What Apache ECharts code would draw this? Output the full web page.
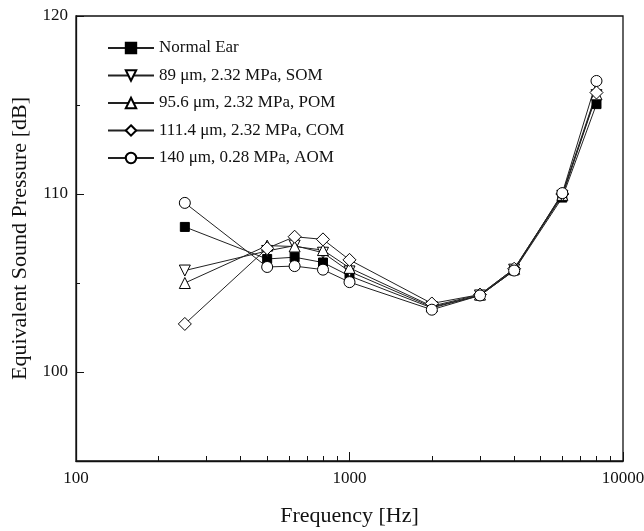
<!DOCTYPE html>
<html>
<head>
<meta charset="utf-8">
<script src="https://cdn.jsdelivr.net/npm/echarts@6/dist/echarts.min.js"></script>
<style>
html,body{margin:0;padding:0;background:#fff;}
#chart{width:644px;height:531px;}
</style>
</head>
<body>
<div id="chart"></div>
<script>
const freqs = [250, 500, 630, 800, 1000, 2000, 3000, 4000, 6000, 8000];
const normalEar = [108.15, 106.35, 106.45, 106.15, 105.4, 103.6, 104.3, 105.7, 109.8, 115.05];
const som = [105.7, 106.8, 107.1, 106.7, 105.65, 103.65, 104.3, 105.75, 109.9, 115.55];
const pom = [105.0, 107.1, 107.05, 106.85, 105.85, 103.7, 104.35, 105.8, 109.95, 115.6];
const com = [102.7, 106.95, 107.6, 107.45, 106.3, 103.85, 104.35, 105.8, 110.0, 115.7];
const aom = [109.5, 105.9, 105.95, 105.75, 105.05, 103.5, 104.3, 105.7, 110.05, 116.35];
const seriesNames = ['Normal Ear', '89 μm, 2.32 MPa, SOM', '95.6 μm, 2.32 MPa, POM', '111.4 μm, 2.32 MPa, COM', '140 μm, 0.28 MPa, AOM'];
const xLabelValues = [100, 1000, 10000];
const xMinorTicks = [200, 300, 400, 500, 600, 700, 800, 900, 2000, 3000, 4000, 5000, 6000, 7000, 8000, 9000];
const yLabelValues = [100, 110, 120];
const yMinorTicks = [105, 115];

const FONT = '"Liberation Serif", "Times New Roman", serif';
const INK = '#111';

function mk(name, vals, symbol, rotate, filled, size) {
  return {
    name: name,
    type: 'line',
    xAxisIndex: 0, yAxisIndex: 0,
    data: freqs.map((f, i) => [f, vals[i]]),
    symbol: symbol,
    symbolRotate: rotate,
    symbolSize: size,
    showAllSymbol: true,
    lineStyle: { color: '#222', width: 1 },
    itemStyle: { color: filled ? '#000' : '#fff', borderColor: '#000', borderWidth: 1 },
    emphasis: { disabled: true },
    animation: false,
    z: 3
  };
}

const chart = echarts.init(document.getElementById('chart'), null, { renderer: 'canvas' });
chart.setOption({
  backgroundColor: '#fff',
  animation: false,
  grid: { left: 76, right: 21, top: 16, bottom: 70, show: true, borderColor: INK, borderWidth: 1.3, backgroundColor: 'transparent', outerBoundsMode: 'none', containLabel: false },
  legend: {
    orient: 'vertical', left: 107, top: 39, padding: 0,
    itemWidth: 46, itemHeight: 13, itemGap: 9.5,
    textStyle: { fontFamily: FONT, fontSize: 17, color: INK, lineHeight: 18 },
    data: seriesNames
  },
  xAxis: [
    {
      type: 'log', logBase: 10, min: 100, max: 10000, offset: 0,
      name: 'Frequency [Hz]', nameLocation: 'middle', nameGap: 44,
      nameTextStyle: { fontFamily: FONT, fontSize: 22, color: INK },
      axisLine: { show: true, lineStyle: { color: INK, width: 1.3 } },
      axisTick: { show: true, inside: true, length: 9, customValues: xLabelValues, lineStyle: { color: INK, width: 1 } },
      axisLabel: { show: true, customValues: xLabelValues, formatter: v => String(Math.round(v)), fontFamily: FONT, fontSize: 17, color: INK, margin: 9 },
      splitLine: { show: false }, minorTick: { show: false }
    },
    {
      type: 'log', logBase: 10, min: 100, max: 10000, position: 'bottom', offset: 0,
      axisLine: { show: false },
      axisTick: { show: true, inside: true, length: 5, customValues: xMinorTicks, lineStyle: { color: INK, width: 1 } },
      axisLabel: { show: false },
      splitLine: { show: false }
    }
  ],
  yAxis: [
    {
      type: 'value', min: 95, max: 120, offset: 0,
      name: 'Equivalent Sound Pressure [dB]', nameLocation: 'middle', nameGap: 44,
      nameTextStyle: { fontFamily: FONT, fontSize: 22, color: INK },
      axisLine: { show: true, lineStyle: { color: INK, width: 1.3 } },
      axisTick: { show: true, inside: true, length: 8, customValues: yLabelValues, lineStyle: { color: INK, width: 1 } },
      axisLabel: { show: true, customValues: yLabelValues, fontFamily: FONT, fontSize: 17, color: INK, margin: 8 },
      splitLine: { show: false }
    },
    {
      type: 'value', min: 95, max: 120, position: 'left', offset: 0,
      axisLine: { show: false },
      axisTick: { show: true, inside: true, length: 4, customValues: yMinorTicks, lineStyle: { color: INK, width: 1 } },
      axisLabel: { show: false },
      splitLine: { show: false }
    }
  ],
  series: [
    mk(seriesNames[0], normalEar, 'rect', 0, true, 9),
    mk(seriesNames[1], som, 'triangle', 180, false, 11),
    mk(seriesNames[2], pom, 'triangle', 0, false, 11),
    mk(seriesNames[3], com, 'diamond', 0, false, 13),
    mk(seriesNames[4], aom, 'circle', 0, false, 11)
  ]
});
</script>
</body>
</html>
